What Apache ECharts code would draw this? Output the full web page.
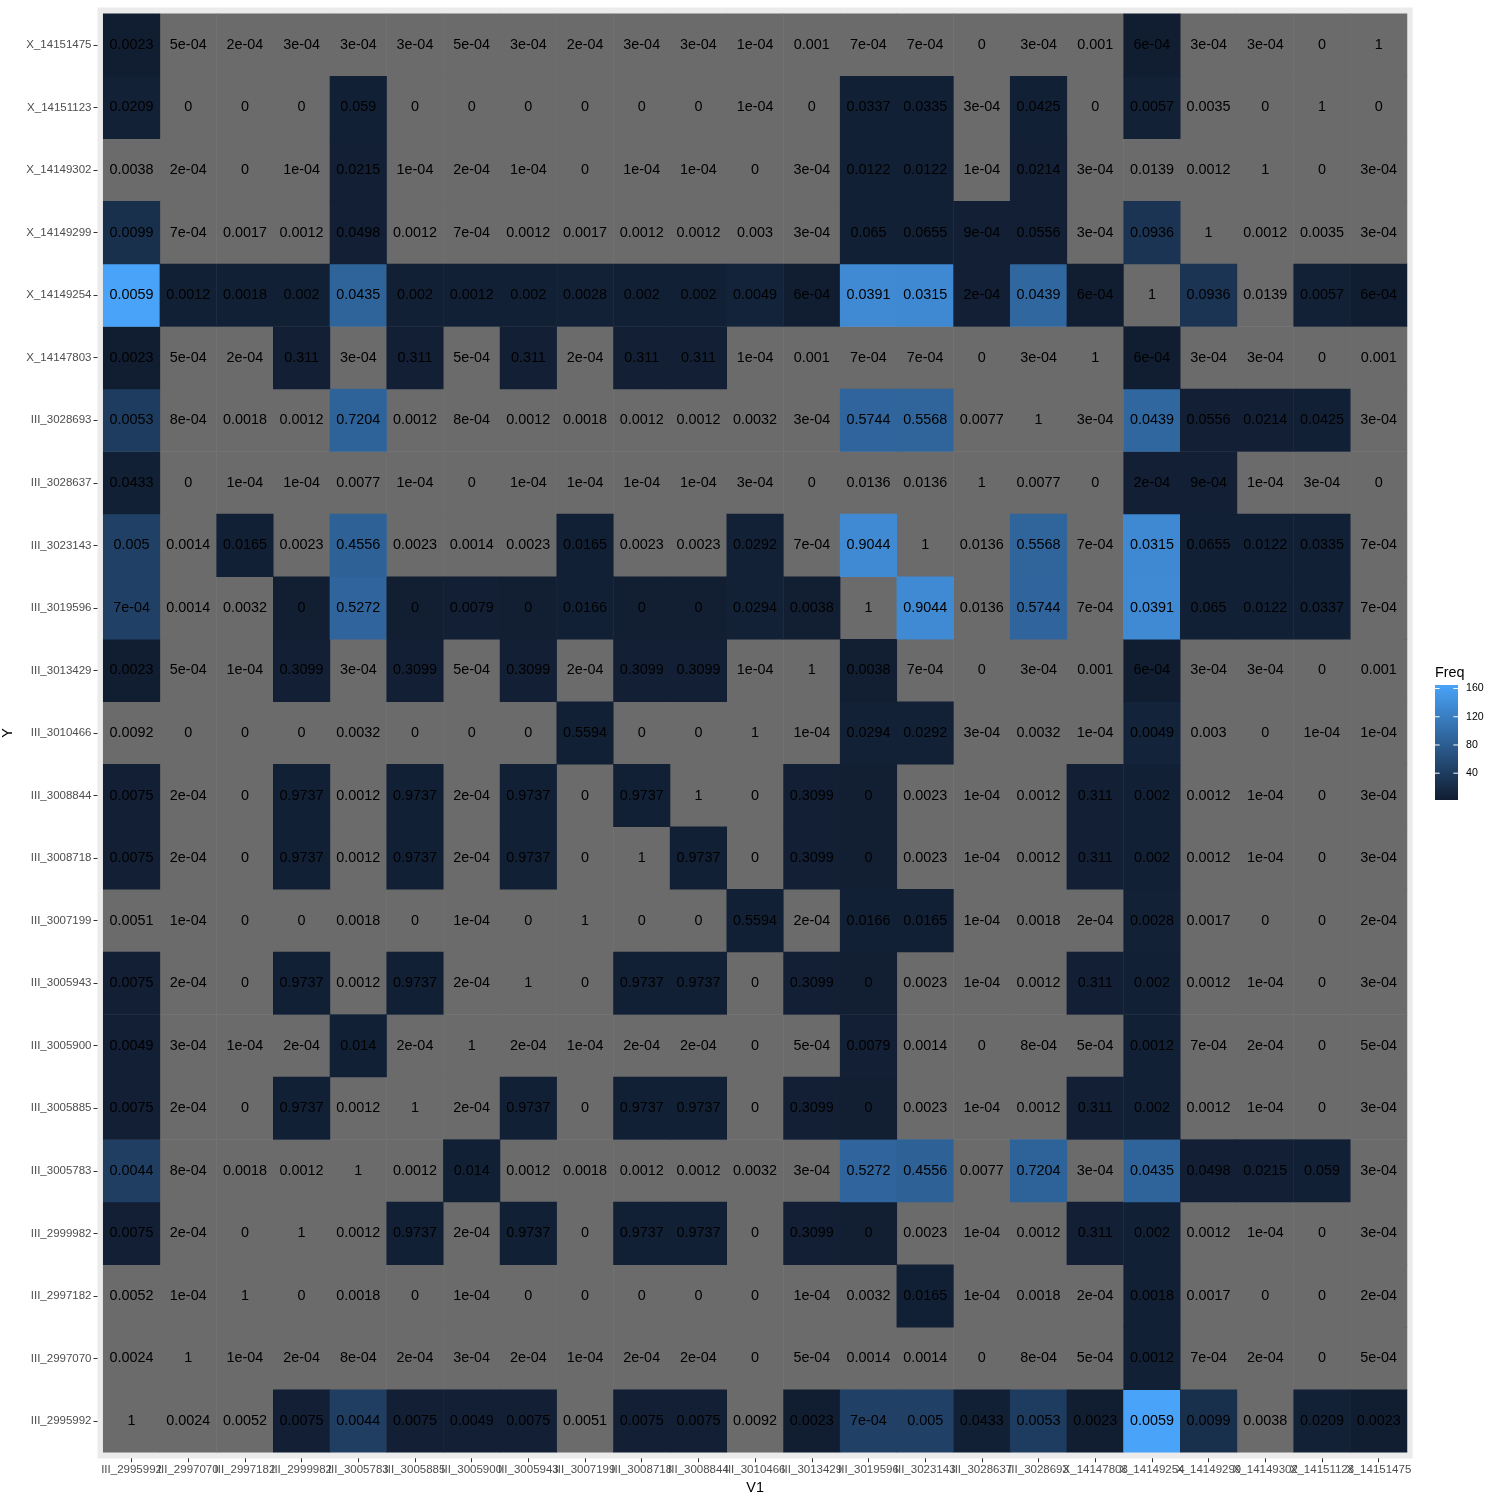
<!DOCTYPE html>
<html>
<head>
<meta charset="utf-8">
<script src="https://cdn.jsdelivr.net/npm/echarts@6.0.0/dist/echarts.min.js"></script>
<style>
  html, body { margin: 0; padding: 0; background: #fff; }
  #chart { width: 1500px; height: 1500px; }
</style>
</head>
<body>
<div id="chart"></div>
<script>
// marker ids, same order on both axes (index 0 = bottom / left)
const ids = [
  "III_2995992", "III_2997070", "III_2997182", "III_2999982", "III_3005783",
  "III_3005885", "III_3005900", "III_3005943", "III_3007199", "III_3008718",
  "III_3008844", "III_3010466", "III_3013429", "III_3019596", "III_3023143",
  "III_3028637", "III_3028693", "X_14147803", "X_14149254", "X_14149299",
  "X_14149302", "X_14151123", "X_14151475"
];

// printed cell values, ld[y][x]
const ld = [
  [1, 0.0024, 0.0052, 0.0075, 0.0044, 0.0075, 0.0049, 0.0075, 0.0051, 0.0075, 0.0075, 0.0092, 0.0023, 7e-4, 0.005, 0.0433, 0.0053, 0.0023, 0.0059, 0.0099, 0.0038, 0.0209, 0.0023],
  [0.0024, 1, 1e-4, 2e-4, 8e-4, 2e-4, 3e-4, 2e-4, 1e-4, 2e-4, 2e-4, 0, 5e-4, 0.0014, 0.0014, 0, 8e-4, 5e-4, 0.0012, 7e-4, 2e-4, 0, 5e-4],
  [0.0052, 1e-4, 1, 0, 0.0018, 0, 1e-4, 0, 0, 0, 0, 0, 1e-4, 0.0032, 0.0165, 1e-4, 0.0018, 2e-4, 0.0018, 0.0017, 0, 0, 2e-4],
  [0.0075, 2e-4, 0, 1, 0.0012, 0.9737, 2e-4, 0.9737, 0, 0.9737, 0.9737, 0, 0.3099, 0, 0.0023, 1e-4, 0.0012, 0.311, 0.002, 0.0012, 1e-4, 0, 3e-4],
  [0.0044, 8e-4, 0.0018, 0.0012, 1, 0.0012, 0.014, 0.0012, 0.0018, 0.0012, 0.0012, 0.0032, 3e-4, 0.5272, 0.4556, 0.0077, 0.7204, 3e-4, 0.0435, 0.0498, 0.0215, 0.059, 3e-4],
  [0.0075, 2e-4, 0, 0.9737, 0.0012, 1, 2e-4, 0.9737, 0, 0.9737, 0.9737, 0, 0.3099, 0, 0.0023, 1e-4, 0.0012, 0.311, 0.002, 0.0012, 1e-4, 0, 3e-4],
  [0.0049, 3e-4, 1e-4, 2e-4, 0.014, 2e-4, 1, 2e-4, 1e-4, 2e-4, 2e-4, 0, 5e-4, 0.0079, 0.0014, 0, 8e-4, 5e-4, 0.0012, 7e-4, 2e-4, 0, 5e-4],
  [0.0075, 2e-4, 0, 0.9737, 0.0012, 0.9737, 2e-4, 1, 0, 0.9737, 0.9737, 0, 0.3099, 0, 0.0023, 1e-4, 0.0012, 0.311, 0.002, 0.0012, 1e-4, 0, 3e-4],
  [0.0051, 1e-4, 0, 0, 0.0018, 0, 1e-4, 0, 1, 0, 0, 0.5594, 2e-4, 0.0166, 0.0165, 1e-4, 0.0018, 2e-4, 0.0028, 0.0017, 0, 0, 2e-4],
  [0.0075, 2e-4, 0, 0.9737, 0.0012, 0.9737, 2e-4, 0.9737, 0, 1, 0.9737, 0, 0.3099, 0, 0.0023, 1e-4, 0.0012, 0.311, 0.002, 0.0012, 1e-4, 0, 3e-4],
  [0.0075, 2e-4, 0, 0.9737, 0.0012, 0.9737, 2e-4, 0.9737, 0, 0.9737, 1, 0, 0.3099, 0, 0.0023, 1e-4, 0.0012, 0.311, 0.002, 0.0012, 1e-4, 0, 3e-4],
  [0.0092, 0, 0, 0, 0.0032, 0, 0, 0, 0.5594, 0, 0, 1, 1e-4, 0.0294, 0.0292, 3e-4, 0.0032, 1e-4, 0.0049, 0.003, 0, 1e-4, 1e-4],
  [0.0023, 5e-4, 1e-4, 0.3099, 3e-4, 0.3099, 5e-4, 0.3099, 2e-4, 0.3099, 0.3099, 1e-4, 1, 0.0038, 7e-4, 0, 3e-4, 0.001, 6e-4, 3e-4, 3e-4, 0, 0.001],
  [7e-4, 0.0014, 0.0032, 0, 0.5272, 0, 0.0079, 0, 0.0166, 0, 0, 0.0294, 0.0038, 1, 0.9044, 0.0136, 0.5744, 7e-4, 0.0391, 0.065, 0.0122, 0.0337, 7e-4],
  [0.005, 0.0014, 0.0165, 0.0023, 0.4556, 0.0023, 0.0014, 0.0023, 0.0165, 0.0023, 0.0023, 0.0292, 7e-4, 0.9044, 1, 0.0136, 0.5568, 7e-4, 0.0315, 0.0655, 0.0122, 0.0335, 7e-4],
  [0.0433, 0, 1e-4, 1e-4, 0.0077, 1e-4, 0, 1e-4, 1e-4, 1e-4, 1e-4, 3e-4, 0, 0.0136, 0.0136, 1, 0.0077, 0, 2e-4, 9e-4, 1e-4, 3e-4, 0],
  [0.0053, 8e-4, 0.0018, 0.0012, 0.7204, 0.0012, 8e-4, 0.0012, 0.0018, 0.0012, 0.0012, 0.0032, 3e-4, 0.5744, 0.5568, 0.0077, 1, 3e-4, 0.0439, 0.0556, 0.0214, 0.0425, 3e-4],
  [0.0023, 5e-4, 2e-4, 0.311, 3e-4, 0.311, 5e-4, 0.311, 2e-4, 0.311, 0.311, 1e-4, 0.001, 7e-4, 7e-4, 0, 3e-4, 1, 6e-4, 3e-4, 3e-4, 0, 0.001],
  [0.0059, 0.0012, 0.0018, 0.002, 0.0435, 0.002, 0.0012, 0.002, 0.0028, 0.002, 0.002, 0.0049, 6e-4, 0.0391, 0.0315, 2e-4, 0.0439, 6e-4, 1, 0.0936, 0.0139, 0.0057, 6e-4],
  [0.0099, 7e-4, 0.0017, 0.0012, 0.0498, 0.0012, 7e-4, 0.0012, 0.0017, 0.0012, 0.0012, 0.003, 3e-4, 0.065, 0.0655, 9e-4, 0.0556, 3e-4, 0.0936, 1, 0.0012, 0.0035, 3e-4],
  [0.0038, 2e-4, 0, 1e-4, 0.0215, 1e-4, 2e-4, 1e-4, 0, 1e-4, 1e-4, 0, 3e-4, 0.0122, 0.0122, 1e-4, 0.0214, 3e-4, 0.0139, 0.0012, 1, 0, 3e-4],
  [0.0209, 0, 0, 0, 0.059, 0, 0, 0, 0, 0, 0, 1e-4, 0, 0.0337, 0.0335, 3e-4, 0.0425, 0, 0.0057, 0.0035, 0, 1, 0],
  [0.0023, 5e-4, 2e-4, 3e-4, 3e-4, 3e-4, 5e-4, 3e-4, 2e-4, 3e-4, 3e-4, 1e-4, 0.001, 7e-4, 7e-4, 0, 3e-4, 0.001, 6e-4, 3e-4, 3e-4, 0, 1]
];

// fill variable (Freq), freq[y][x]; null = NA (grey)
const _ = null;
const freq = [
  [_, _, _, 5, 42, 5, 5, 5, _, 5, 5, _, 3, 45, 45, 6, 40, 3, 165, 25, _, 7, 3],
  [_, _, _, _, _, _, _, _, _, _, _, _, _, _, _, _, _, _, 6, _, _, _, _],
  [_, _, _, _, _, _, _, _, _, _, _, _, _, _, 6, _, _, _, 6, _, _, _, _],
  [5, _, _, _, _, 6, _, 6, _, 6, 6, _, 5, 4, _, _, _, 5, 6, _, _, _, _],
  [42, _, _, _, _, _, 6, _, _, _, _, _, _, 90, 85, _, 87, _, 88, 5, 5, 6, _],
  [5, _, _, 6, _, _, _, 6, _, 6, 6, _, 5, 4, _, _, _, 5, 6, _, _, _, _],
  [5, _, _, _, 6, _, _, _, _, _, _, _, _, 5, _, _, _, _, 6, _, _, _, _],
  [5, _, _, 6, _, 6, _, _, _, 6, 6, _, 5, 4, _, _, _, 5, 6, _, _, _, _],
  [_, _, _, _, _, _, _, _, _, _, _, 6, _, 6, 6, _, _, _, 7, _, _, _, _],
  [5, _, _, 6, _, 6, _, 6, _, _, 6, _, 5, 4, _, _, _, 5, 6, _, _, _, _],
  [5, _, _, 6, _, 6, _, 6, _, 6, _, _, 5, 4, _, _, _, 5, 6, _, _, _, _],
  [_, _, _, _, _, _, _, _, 6, _, _, _, _, 7, 7, _, _, _, 9, _, _, _, _],
  [3, _, _, 5, _, 5, _, 5, _, 5, 5, _, _, 4, _, _, _, _, 3, _, _, _, _],
  [45, _, _, 4, 90, 4, 5, 4, 6, 4, 4, 7, 4, _, 135, _, 90, _, 135, 6, 6, 6, _],
  [45, _, 6, _, 85, _, _, _, 6, _, _, 7, _, 135, _, _, 89, _, 133, 6, 6, 6, _],
  [6, _, _, _, _, _, _, _, _, _, _, _, _, _, _, _, _, _, 5, 5, _, _, _],
  [40, _, _, _, 87, _, _, _, _, _, _, _, _, 90, 89, _, _, _, 92, 5, 5, 6, _],
  [3, _, _, 5, _, 5, _, 5, _, 5, 5, _, _, _, _, _, _, _, 3, _, _, _, _],
  [165, 6, 6, 6, 88, 6, 6, 6, 7, 6, 6, 9, 3, 135, 133, 5, 92, 3, _, 30, _, 7, 3],
  [25, _, _, _, 5, _, _, _, _, _, _, _, _, 6, 6, 5, 5, _, 30, _, _, _, _],
  [_, _, _, _, 5, _, _, _, _, _, _, _, _, 6, 6, _, 5, _, _, _, _, _, _],
  [7, _, _, _, 6, _, _, _, _, _, _, _, _, 6, 6, _, 6, _, 7, _, _, _, _],
  [3, _, _, _, _, _, _, _, _, _, _, _, _, _, _, _, _, _, 3, _, _, _, _]
];

const freqMin = 2;
const freqMax = 165;
const legendTicks = [40, 80, 120, 160];

const FONT = '"Liberation Sans", Arial, Helvetica, sans-serif';
const LOW = '#111d31';
const HIGH = '#49a3f8';
const NA_COL = '#6b6b6b';

// R-like number printing (fixed unless scientific is shorter)
function fmtR(v) {
  if (v === 0) return '0';
  const fixed = String(v);
  const e = Math.floor(Math.log10(Math.abs(v)) + 1e-12);
  const m = +(v / Math.pow(10, e)).toPrecision(6);
  const sci = m + 'e' + (e < 0 ? '-' : '+') + String(Math.abs(e)).padStart(2, '0');
  return sci.length < fixed.length ? sci : fixed;
}

const naCells = [];
const fillCells = [];
for (let y = 0; y < ids.length; y++) {
  for (let x = 0; x < ids.length; x++) {
    if (freq[y][x] == null) naCells.push([x, y, ld[y][x]]);
    else fillCells.push([x, y, freq[y][x]]);
  }
}

const cellLabel = {
  show: true,
  color: '#000',
  fontSize: 14.4,
  fontFamily: FONT,
  formatter: p => fmtR(ld[p.data[1]][p.data[0]])
};

// legend geometry
const lg = { x: 1435, top: 685, w: 23, h: 115 };
const valToY = v => lg.top + lg.h - (v - freqMin) / (freqMax - freqMin) * lg.h;

const legendEls = [
  { type: 'text', left: lg.x, top: 666, z: 100,
    style: { text: 'Freq', fontSize: 14.4, fontFamily: FONT, fill: '#000' } },
  { type: 'rect', z: 100,
    shape: { x: lg.x, y: lg.top, width: lg.w, height: lg.h },
    style: { fill: new echarts.graphic.LinearGradient(0, 0, 0, 1, [
      { offset: 0, color: HIGH }, { offset: 1, color: LOW }]) } }
];
legendTicks.forEach(v => {
  const y = valToY(v);
  legendEls.push(
    { type: 'line', z: 101, shape: { x1: lg.x, y1: y, x2: lg.x + 4.6, y2: y },
      style: { stroke: '#fff', lineWidth: 1 } },
    { type: 'line', z: 101, shape: { x1: lg.x + lg.w - 4.6, y1: y, x2: lg.x + lg.w, y2: y },
      style: { stroke: '#fff', lineWidth: 1 } },
    { type: 'text', z: 101, x: lg.x + lg.w + 8, y: y,
      style: { text: String(v), fontSize: 10.6, fontFamily: FONT, fill: '#000',
        verticalAlign: 'middle', align: 'left' } }
  );
});

const chart = echarts.init(document.getElementById('chart'), null, { renderer: 'canvas' });
chart.setOption({
  animation: false,
  backgroundColor: '#fff',
  grid: {
    left: 103.2, top: 13.7, right: 93, bottom: 47.7,
    containLabel: false,
    outerBoundsMode: 'none'
  },
  graphic: [
    // ggplot panel background (with the discrete-axis expansion strip)
    { type: 'rect', z: -1, silent: true,
      shape: { x: 97.5, y: 7.5, width: 1315.2, height: 1451 },
      style: { fill: '#EBEBEB' } }
  ].concat(legendEls),
  visualMap: {
    type: 'continuous',
    show: false,
    seriesIndex: 1,
    dimension: 2,
    min: freqMin,
    max: freqMax,
    inRange: { color: [LOW, HIGH] }
  },
  xAxis: {
    type: 'category',
    data: ids,
    offset: 6,
    name: 'V1',
    nameLocation: 'middle',
    nameGap: 16,
    nameTextStyle: { fontSize: 14.4, fontFamily: FONT, color: '#000' },
    axisLine: { show: false },
    axisTick: { show: true, alignWithLabel: true, length: 4, lineStyle: { color: '#333' } },
    axisLabel: { interval: 0, margin: 6, fontSize: 11.5, fontFamily: FONT, color: '#4D4D4D' },
    splitLine: { show: false }
  },
  yAxis: {
    type: 'category',
    data: ids,
    offset: 5.7,
    name: 'Y',
    nameLocation: 'middle',
    nameGap: 73,
    nameRotate: 90,
    nameTextStyle: { fontSize: 14.4, fontFamily: FONT, color: '#000' },
    axisLine: { show: false },
    axisTick: { show: true, alignWithLabel: true, length: 4, lineStyle: { color: '#333' } },
    axisLabel: { interval: 0, margin: 6, fontSize: 11.5, fontFamily: FONT, color: '#4D4D4D' },
    splitLine: { show: false }
  },
  series: [
    {
      name: 'NA',
      type: 'heatmap',
      data: naCells,
      itemStyle: { color: NA_COL },
      label: cellLabel,
      emphasis: { disabled: true },
      silent: true
    },
    {
      name: 'Freq',
      type: 'heatmap',
      data: fillCells,
      label: cellLabel,
      emphasis: { disabled: true },
      silent: true
    }
  ]
});
</script>
</body>
</html>
